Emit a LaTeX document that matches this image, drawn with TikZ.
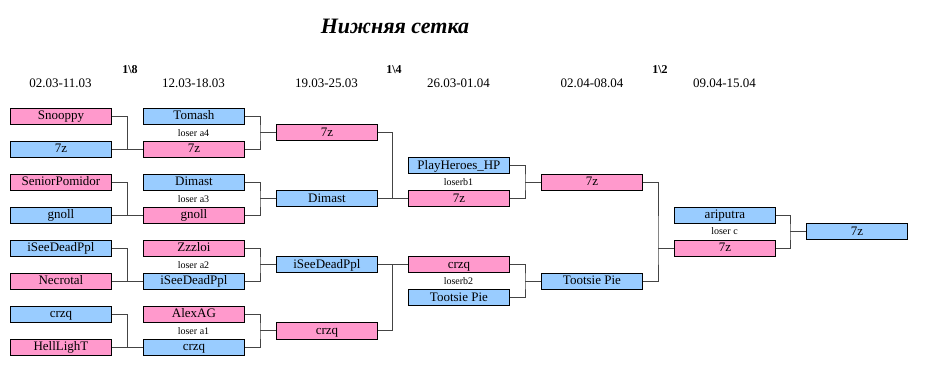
\documentclass[tikz,border=0pt]{standalone}
\usepackage{fontspec}
\setmainfont{Liberation Serif}
\definecolor{pinkc}{HTML}{FF99CC}
\definecolor{bluec}{HTML}{99CCFF}
\definecolor{linec}{HTML}{444444}
\begin{document}
\begin{tikzpicture}[x=1pt,y=-1pt,
  box/.style={draw=black,line width=0.9pt,anchor=north west,minimum width=101pt,minimum height=16pt,inner sep=0pt,text height=9pt,text depth=2.5pt,font=\fontsize{13}{13}\selectfont},
  pb/.style={box,fill=pinkc},
  bb/.style={box,fill=bluec},
  lbl/.style={font=\fontsize{10}{10}\selectfont,inner sep=0pt},
  hdr/.style={font=\fontsize{12}{12}\selectfont\bfseries,inner sep=0pt},
  date/.style={font=\fontsize{13}{13}\selectfont,inner sep=0pt},
  conn/.style={draw=linec,line width=1pt}]
\useasboundingbox (0,0) rectangle (929,379);
% title
\node[anchor=base,inner sep=0pt,font=\fontsize{22}{22}\selectfont\bfseries\itshape] (title) at (395,33.5) {Нижняя сетка};
% headers
\node[hdr] (h8) at (130,70) {1\textbackslash 8};
\node[hdr] (h4) at (394,70) {1\textbackslash 4};
\node[hdr] (h2) at (660,70) {1\textbackslash 2};
\node[date] (d1) at (60.5,83) {02.03-11.03};
\node[date] (d2) at (193.5,83) {12.03-18.03};
\node[date] (d3) at (326.5,83) {19.03-25.03};
\node[date] (d4) at (458.5,83) {26.03-01.04};
\node[date] (d5) at (592,83) {02.04-08.04};
\node[date] (d6) at (724.5,83) {09.04-15.04};
% column 1
\node[pb] (c1a) at (10,108) {Snooppy};
\node[bb] (c1b) at (10,141) {7z};
\node[pb] (c1c) at (10,174) {SeniorPomidor};
\node[bb] (c1d) at (10,207) {gnoll};
\node[bb] (c1e) at (10,240) {iSeeDeadPpl};
\node[pb] (c1f) at (10,273) {Necrotal};
\node[bb] (c1g) at (10,306) {crzq};
\node[pb] (c1h) at (10,339) {HellLighT};
% column 2
\node[bb] (c2a) at (143,108) {Tomash};
\node[pb] (c2b) at (143,141) {7z};
\node[bb] (c2c) at (143,174) {Dimast};
\node[pb] (c2d) at (143,207) {gnoll};
\node[pb] (c2e) at (143,240) {Zzzloi};
\node[bb] (c2f) at (143,273) {iSeeDeadPpl};
\node[pb] (c2g) at (143,306) {AlexAG};
\node[bb] (c2h) at (143,339) {crzq};
\node[lbl] (l2a) at (193.5,133) {loser a4};
\node[lbl] (l2b) at (193.5,199) {loser a3};
\node[lbl] (l2c) at (193.5,265) {loser a2};
\node[lbl] (l2d) at (193.5,331) {loser a1};
% column 3
\node[pb] (c3a) at (276,124.5) {7z};
\node[bb] (c3b) at (276,190.5) {Dimast};
\node[bb] (c3c) at (276,256.5) {iSeeDeadPpl};
\node[pb] (c3d) at (276,322.5) {crzq};
% column 4
\node[bb] (c4a) at (408,157.5) {PlayHeroes\_HP};
\node[pb] (c4b) at (408,190.5) {7z};
\node[pb] (c4c) at (408,256.5) {crzq};
\node[bb] (c4d) at (408,289.5) {Tootsie Pie};
\node[lbl] (l4a) at (458.5,182) {loserb1};
\node[lbl] (l4b) at (458.5,281) {loserb2};
% column 5
\node[pb] (c5a) at (541,174) {7z};
\node[bb] (c5b) at (541,273) {Tootsie Pie};
% column 6
\node[bb] (c6a) at (674,207) {ariputra};
\node[pb] (c6b) at (674,240) {7z};
\node[lbl] (l6) at (724.5,231.5) {loser c};
% column 7
\node[bb] (c7) at (806,223.5) {7z};
% connectors
\foreach \t/\b/\g in {c1a/c1b/c2b,c1c/c1d/c2d,c1e/c1f/c2f,c1g/c1h/c2h,
  c2a/c2b/c3a,c2c/c2d/c3b,c2e/c2f/c3c,c2g/c2h/c3d,
  c3a/c3b/c4b,c3c/c3d/c4c,c4a/c4b/c5a,c4c/c4d/c5b,c5a/c5b/c6b,c6a/c6b/c7}{
  \draw[conn] (\t.east) -| ([xshift=-16pt]\g.west) |- (\b.east);
  \draw[conn] ([xshift=-16pt]\g.west) -- (\g.west);
}
\end{tikzpicture}
\end{document}
